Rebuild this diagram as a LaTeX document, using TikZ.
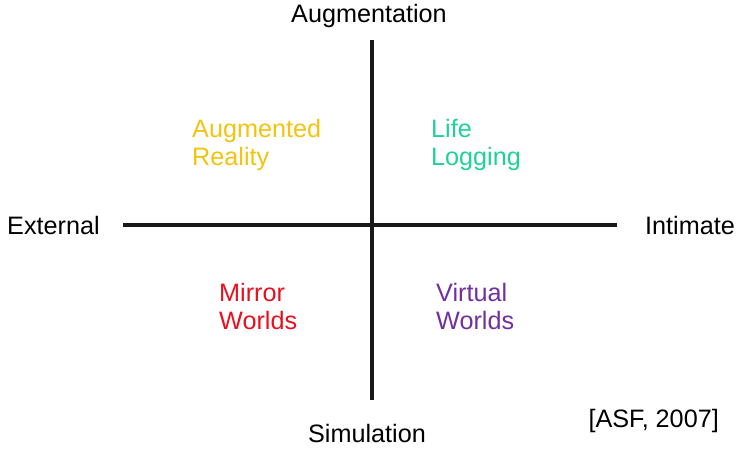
\documentclass[tikz,border=0pt]{standalone}
\usepackage{fontspec}
\setmainfont{Liberation Sans}
\definecolor{arYellow}{HTML}{F2C40F}
\definecolor{llGreen}{HTML}{1FD199}
\definecolor{mwRed}{HTML}{E8101E}
\definecolor{vwPurple}{HTML}{7030A0}
\begin{document}
\begin{tikzpicture}[x=1pt,y=1pt,
  axis/.style={line width=3.5pt,black!90},
  lbl/.style={inner sep=0pt,font=\fontsize{25.2}{28}\selectfont},
  quad/.style={lbl,align=left,anchor=west}]
\useasboundingbox (0,0) rectangle (740,451);
% axes
\coordinate (top) at (372,411);
\coordinate (bottom) at (372,51);
\coordinate (left) at (123,226);
\coordinate (right) at (617,226);
\draw[axis] (top) -- (bottom);
\draw[axis] (left) -- (right);
% axis labels
\node[lbl] (aug) at (369,435) {Augmentation};
\node[lbl] (sim) at (367,18) {Simulation};
\node[lbl,anchor=west] (ext) at (7,226) {External};
\node[lbl,anchor=east] (int) at (735,226) {Intimate};
% quadrants
\node[quad,text=arYellow] (ar) at (192,306) {Augmented\\Reality};
\node[quad,text=llGreen] (ll) at (431,306) {Life\\Logging};
\node[quad,text=mwRed] (mw) at (219,145) {Mirror\\Worlds};
\node[quad,text=vwPurple] (vw) at (436,145) {Virtual\\Worlds};
% citation
\node[lbl,anchor=east] (cite) at (719,30) {[ASF, 2007]};
\end{tikzpicture}
\end{document}
